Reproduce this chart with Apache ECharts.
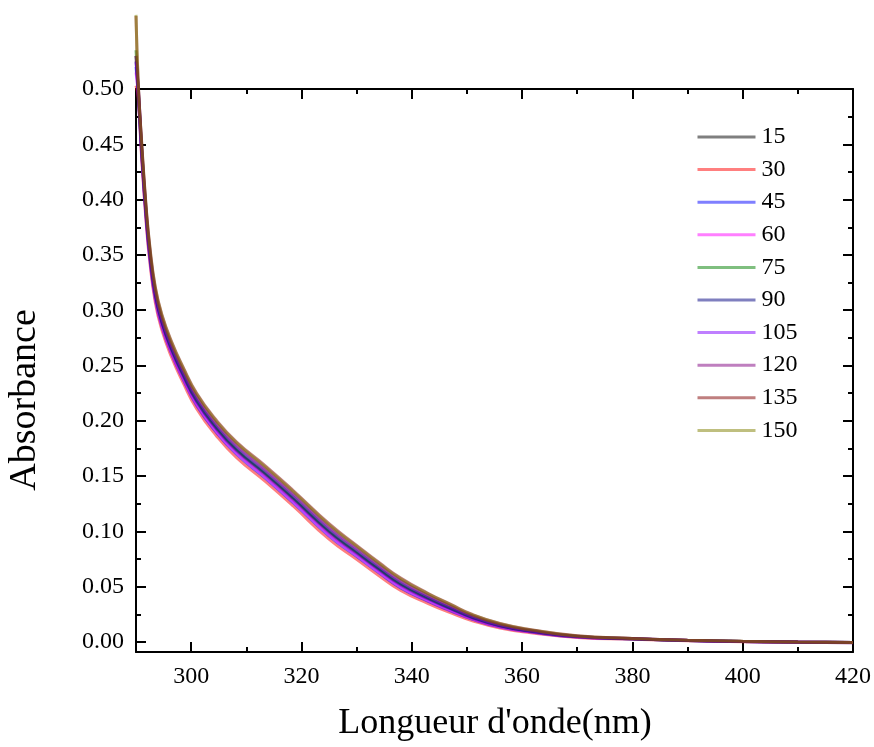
<!DOCTYPE html>
<html><head><meta charset="utf-8">
<script src="https://cdn.jsdelivr.net/npm/echarts@6/dist/echarts.min.js"></script>
<style>html,body{margin:0;padding:0;background:#fff}#c{width:874px;height:747px}</style>
</head><body><div id="c"></div>
<script>
const wavelengths = [290.0,290.4,291.0,291.8,292.5,293.5,294.7,296.5,298.5,301,304.5,308.2,313.5,318.5,325,330,334,338,343,347,351,356,361.6,370,380,390,400,410,420];
const seriesNames = ['15','30','45','60','75','90','105','120','135','150'];
const s15  = [0.530,0.498,0.446,0.388,0.350,0.313,0.288,0.263,0.241,0.217,0.193,0.173,0.151,0.129,0.099,0.0802,0.0653,0.0514,0.0387,0.0299,0.0217,0.0144,0.0096,0.0048,0.0030,0.0015,0.0005,0.0000,-0.0005];
const s30  = [0.503,0.492,0.440,0.382,0.344,0.307,0.282,0.257,0.235,0.211,0.187,0.167,0.145,0.123,0.093,0.0748,0.0602,0.0466,0.0348,0.0266,0.0193,0.0126,0.0084,0.0042,0.0026,0.0012,0.0003,-0.0002,-0.0007];
const s45  = [0.520,0.495,0.443,0.385,0.347,0.310,0.285,0.260,0.238,0.214,0.190,0.170,0.148,0.126,0.096,0.0775,0.0628,0.0490,0.0368,0.0283,0.0205,0.0135,0.0090,0.0045,0.0028,0.0013,0.0004,-0.0001,-0.0006];
const s60  = [0.515,0.496,0.444,0.386,0.348,0.311,0.286,0.261,0.239,0.215,0.191,0.171,0.149,0.127,0.097,0.0784,0.0636,0.0498,0.0374,0.0288,0.0209,0.0138,0.0092,0.0046,0.0029,0.0014,0.0004,0.0000,-0.0005];
const s75  = [0.535,0.500,0.448,0.390,0.352,0.315,0.290,0.265,0.243,0.219,0.195,0.175,0.153,0.131,0.101,0.0820,0.0670,0.0530,0.0400,0.0310,0.0225,0.0150,0.0100,0.0050,0.0030,0.0015,0.0005,0.0000,-0.0005];
const s90  = [0.525,0.499,0.447,0.389,0.351,0.314,0.289,0.264,0.242,0.218,0.194,0.174,0.152,0.130,0.100,0.0811,0.0662,0.0522,0.0394,0.0305,0.0221,0.0147,0.0098,0.0049,0.0030,0.0015,0.0005,0.0000,-0.0005];
const s105 = [0.524,0.502,0.450,0.392,0.354,0.317,0.292,0.267,0.245,0.221,0.197,0.177,0.155,0.133,0.103,0.0838,0.0687,0.0546,0.0413,0.0321,0.0233,0.0156,0.0104,0.0052,0.0031,0.0016,0.0006,0.0000,-0.0004];
const s120 = [0.530,0.503,0.451,0.393,0.355,0.318,0.293,0.268,0.246,0.222,0.198,0.178,0.156,0.134,0.104,0.0847,0.0696,0.0554,0.0420,0.0327,0.0237,0.0159,0.0106,0.0053,0.0032,0.0016,0.0006,0.0001,-0.0004];
const s135 = [0.566,0.506,0.454,0.396,0.358,0.321,0.296,0.271,0.249,0.225,0.201,0.181,0.159,0.137,0.107,0.0874,0.0721,0.0578,0.0439,0.0343,0.0249,0.0168,0.0112,0.0056,0.0033,0.0017,0.0007,0.0001,-0.0003];
const s150 = [0.567,0.505,0.453,0.395,0.357,0.320,0.295,0.270,0.248,0.224,0.200,0.180,0.158,0.136,0.106,0.0865,0.0713,0.0570,0.0433,0.0338,0.0245,0.0165,0.0110,0.0055,0.0033,0.0017,0.0007,0.0001,-0.0003];
const allSeries = [s15,s30,s45,s60,s75,s90,s105,s120,s135,s150];
const xMajorTicks = [300,320,340,360,380,400,420];
const xMinorTicks = [310,330,350,370,390,410];
const yMajorTicks = [0,0.05,0.10,0.15,0.20,0.25,0.30,0.35,0.40,0.45,0.50];
const yMinorTicks = [0.025,0.075,0.125,0.175,0.225,0.275,0.325,0.375,0.425,0.475];

const colors = ['rgba(0,0,0,0.5)','rgba(255,0,0,0.5)','rgba(0,0,255,0.5)','rgba(255,0,255,0.5)','rgba(0,128,0,0.5)','rgba(0,0,128,0.5)','rgba(128,0,255,0.5)','rgba(128,0,128,0.5)','rgba(128,0,0,0.5)','rgba(128,128,0,0.5)'];
const FONT = 'Liberation Serif';
const XMIN = 290, XMAX = 420, YMIN = -0.009, YMAX = 0.5;

function xAx(pos, ticks, len, labels, line){
  return {type:'value', position:pos, min:XMIN, max:XMAX,
    axisLine:{show:line, onZero:false, lineStyle:{color:'#000', width:2}},
    axisTick:{show:true, inside:true, length:len, customValues:ticks, lineStyle:{color:'#000', width:2}},
    axisLabel:{show:labels, customValues:ticks, margin:13, fontSize:24, fontFamily:FONT, color:'#000'},
    splitLine:{show:false}};
}
function yAx(pos, ticks, len, labels, line){
  return {type:'value', position:pos, min:YMIN, max:YMAX,
    axisLine:{show:line, onZero:false, lineStyle:{color:'#000', width:2}},
    axisTick:{show:true, inside:true, length:len, customValues:ticks, lineStyle:{color:'#000', width:2}},
    axisLabel:{show:labels, customValues:ticks, margin:12, fontSize:24, fontFamily:FONT, color:'#000', formatter:v=>v.toFixed(2)},
    splitLine:{show:false}};
}

const chart = echarts.init(document.getElementById('c'));
chart.setOption({
  backgroundColor:'#fff',
  animation:false,
  grid:{left:136, right:20, top:89, bottom:95, containLabel:false},
  xAxis:[xAx('bottom',xMajorTicks,10,true,true), xAx('bottom',xMinorTicks,5,false,false),
         xAx('top',xMajorTicks,10,false,true), xAx('top',xMinorTicks,5,false,false)],
  yAxis:[yAx('left',yMajorTicks,10,true,true), yAx('left',yMinorTicks,5,false,false),
         yAx('right',yMajorTicks,10,false,true), yAx('right',yMinorTicks,5,false,false)],
  legend:{orient:'vertical', left:696, top:125, padding:0, itemWidth:58, itemHeight:14, itemGap:8.6,
    itemStyle:{opacity:0}, lineStyle:{width:3},
    textStyle:{fontSize:24, lineHeight:24, fontFamily:FONT, color:'#000', padding:[0,0,0,1]}, data:seriesNames},
  graphic:[
    {type:'text', x:495, y:724, style:{text:"Longueur d'onde(nm)", font:'36px "Liberation Serif"', fill:'#000', align:'center', verticalAlign:'middle'}},
    {type:'text', rotation:Math.PI/2, x:25, y:400, style:{text:'Absorbance', font:'38px "Liberation Serif"', fill:'#000', align:'center', verticalAlign:'middle'}}
  ],
  series: allSeries.map((arr,i)=>({
    name:seriesNames[i], type:'line', xAxisIndex:0, yAxisIndex:0,
    data: wavelengths.map((w,j)=>[w, arr[j]]),
    showSymbol:false, symbol:'none', smooth:0.5, clip:false,
    lineStyle:{color:colors[i], width:3}, itemStyle:{color:colors[i]}
  }))
});
</script></body></html>
